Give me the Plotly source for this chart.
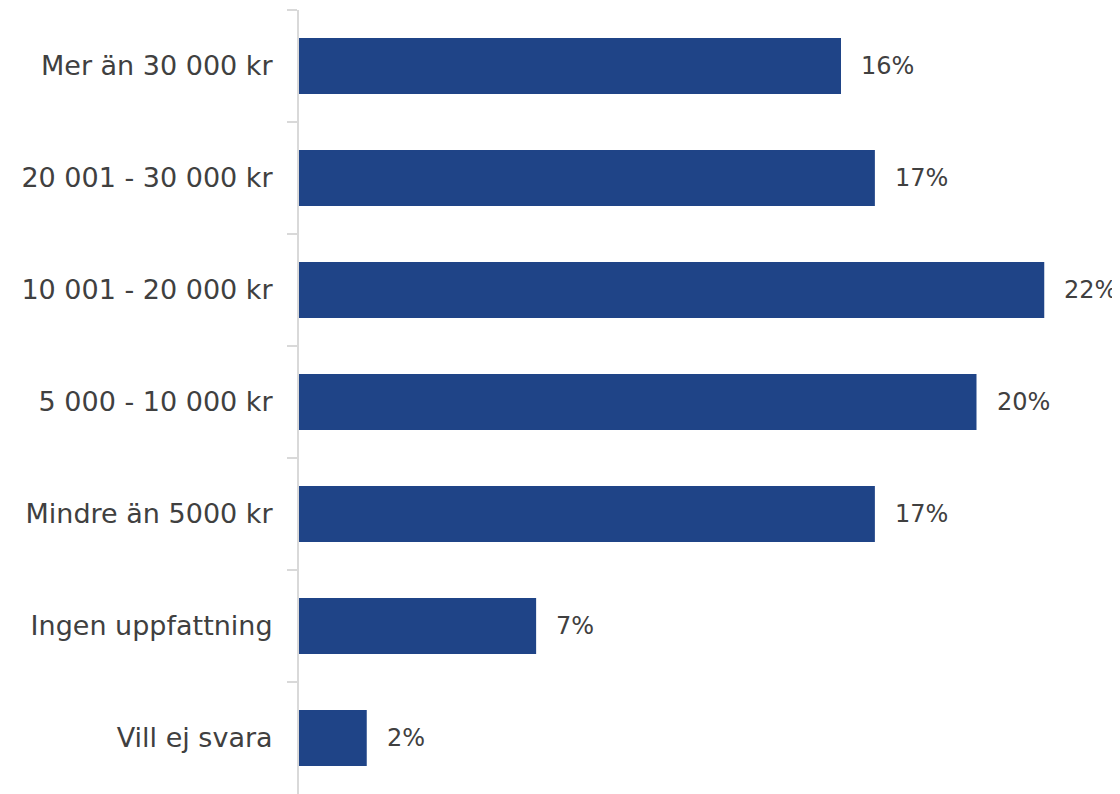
import plotly.graph_objects as go

categories = ["Mer än 30 000 kr", "20 001 - 30 000 kr", "10 001 - 20 000 kr",
              "5 000 - 10 000 kr", "Mindre än 5000 kr", "Ingen uppfattning", "Vill ej svara"]
values = [16, 17, 22, 20, 17, 7, 2]

BAR = "#1F4487"
TXT = "#404040"
FONT = "DejaVu Sans"

fig = go.Figure(go.Bar(
    x=values, y=categories, orientation="h",
    marker=dict(color=BAR, line=dict(width=0)),
    hoverinfo="skip",
))

for c, v in zip(categories, values):
    fig.add_annotation(x=v, y=c, text=f"{v}%", showarrow=False,
                       xanchor="left", yanchor="middle", xshift=18,
                       font=dict(family=FONT, size=24, color=TXT))

fig.update_layout(
    width=1112, height=786,
    margin=dict(l=291, r=8, t=2, b=0),
    paper_bgcolor="white", plot_bgcolor="white",
    bargap=0.5, showlegend=False,
    font=dict(family=FONT, color=TXT),
)
fig.update_xaxes(range=[0, 24.0], visible=False, showgrid=False, zeroline=False)
fig.update_yaxes(
    type="category", categoryorder="array", categoryarray=categories,
    autorange="reversed",
    showline=True, linecolor="#D9D9D9", linewidth=2,
    ticks="outside", tickson="boundaries", ticklen=10, tickcolor="#D9D9D9", tickwidth=2,
    ticklabelstandoff=19,
    tickfont=dict(family=FONT, size=27, color=TXT),
    showgrid=False, zeroline=False,
)

fig.write_html("out.html")
